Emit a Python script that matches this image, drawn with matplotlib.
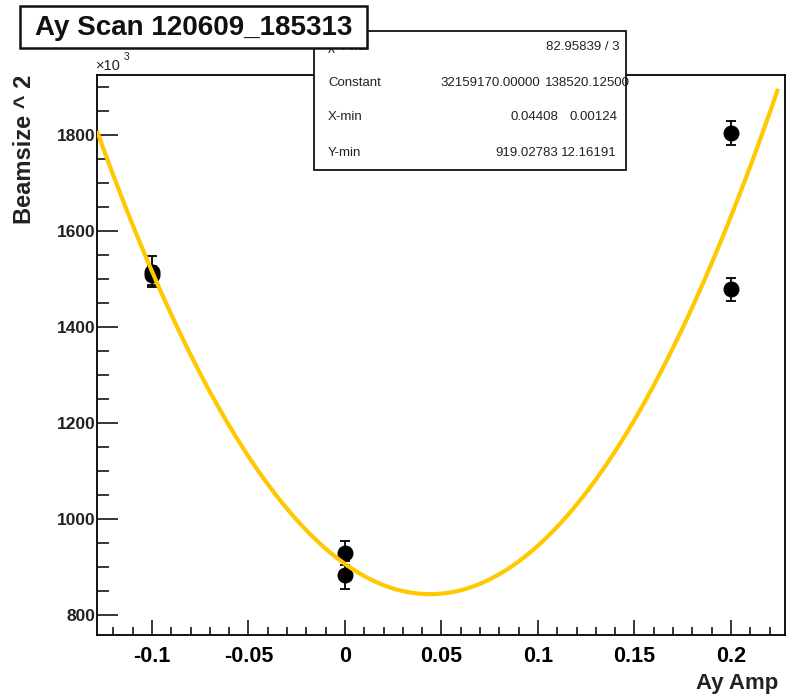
import numpy as np
import matplotlib
matplotlib.use("Agg")
import matplotlib.pyplot as plt
from matplotlib.patches import Rectangle
from matplotlib.ticker import MultipleLocator, FuncFormatter

plt.rcParams['font.family'] = ['Liberation Sans', 'DejaVu Sans']

# ---- data (values in units of 10^3) ----
ay_amp = [-0.1, -0.1, 0.0, 0.0, 0.2, 0.2]
beamsize2 = [1515, 1508, 928, 883, 1804, 1478]
beamsize2_err = [32, 20, 25, 29, 25, 23]

# fitted parabola parameters
fit_constant = 32400.0
fit_xmin = 0.0441
fit_ymin = 843.0
fit_range = (-0.1285, 0.2244)

title = "Ay Scan 120609_185313"
xlabel = "Ay Amp"
ylabel = "Beamsize ^ 2"
stat_rows = [
    ("\u03c7\u00b2 / ndf", "82.95839 / 3", None),
    ("Constant", "32159170.00000", "138520.12500"),
    ("X-min", "0.04408", "0.00124"),
    ("Y-min", "919.02783", "12.16191"),
]

W, H = 788, 697
fig = plt.figure(figsize=(W / 100, H / 100), dpi=100)
fig.patch.set_facecolor('white')


def fx(x):
    return x / W


def fy(y):
    return 1 - y / H


L, R, T, B = 97, 785, 75, 635
ax = fig.add_axes([fx(L), fy(B), (R - L) / W, (B - T) / H])
ax.set_xlim(-0.1285, 0.228)
ax.set_ylim(758, 1925)

ax.errorbar(ay_amp, beamsize2, yerr=beamsize2_err, fmt='o', color='black',
            ms=10.5, elinewidth=1.3, capsize=3.5, capthick=1.3, zorder=3)

xs = np.linspace(fit_range[0], fit_range[1], 100)
ys = fit_constant * (xs - fit_xmin) ** 2 + fit_ymin
ax.plot(xs, ys, color='#FFC800', lw=3.0, zorder=4, solid_capstyle='butt')

for s in ax.spines.values():
    s.set_linewidth(1.3)

ax.xaxis.set_major_locator(MultipleLocator(0.05))
ax.xaxis.set_minor_locator(MultipleLocator(0.01))
ax.yaxis.set_major_locator(MultipleLocator(200))
ax.yaxis.set_minor_locator(MultipleLocator(50))


def xfmt(v, p):
    if abs(v) < 1e-9:
        return "0"
    return ("%g" % round(v, 3))


ax.xaxis.set_major_formatter(FuncFormatter(xfmt))
ax.yaxis.set_major_formatter(FuncFormatter(lambda v, p: "%d" % round(v)))

ax.tick_params(axis='x', which='major', direction='in', length=11, width=1.1,
               labelsize=15.5, pad=8, top=False)
ax.tick_params(axis='x', which='minor', direction='in', length=6, width=1.1, top=False)
ax.tick_params(axis='y', which='major', direction='in', length=15, width=1.1,
               labelsize=12.5, pad=1, right=False)
ax.tick_params(axis='y', which='minor', direction='in', length=8.5, width=1.1, right=False)
for lab in ax.get_xticklabels() + ax.get_yticklabels():
    lab.set_fontweight('bold')
for lab in ax.get_yticklabels():
    lab.set_color('#222222')

# axis titles
fig.text(fx(778), fy(684), xlabel, ha='right', va='center', fontsize=16,
         fontweight='bold', color='#222222')
fig.text(fx(25), fy(75), ylabel, ha='center', va='top', rotation=90,
         fontsize=17, fontweight='bold', color='#222222')
fig.text(fx(96), fy(66), "\u00d710", ha='left', va='center', fontsize=10.5,
         color='#222222')
fig.text(fx(124), fy(57), "3", ha='left', va='center', fontsize=7.5,
         color='#222222')

# stats box
stats = Rectangle((fx(314), fy(170)), (626 - 314) / W, (170 - 31) / H,
                  transform=fig.transFigure, facecolor='white',
                  edgecolor='#111111', lw=1.3, zorder=5)
fig.add_artist(stats)
row_y = [47, 83, 117, 153]
for (lab, val, err), yy in zip(stat_rows, row_y):
    fig.text(fx(328), fy(yy), lab, ha='left', va='center', fontsize=9.5,
             color='#222222', zorder=6)
    if err is None:
        fig.text(fx(620), fy(yy), val, ha='right', va='center', fontsize=9.5,
                 color='#222222', zorder=6)
    elif lab == "Constant":
        fig.text(fx(540), fy(yy), val, ha='right', va='center', fontsize=9.5,
                 color='#222222', zorder=6)
        fig.text(fx(630), fy(yy), err, ha='right', va='center', fontsize=9.5,
                 color='#222222', zorder=6)
    else:
        fig.text(fx(558), fy(yy), val, ha='right', va='center', fontsize=9.5,
                 color='#222222', zorder=6)
        fig.text(fx(617), fy(yy), err, ha='right', va='center', fontsize=9.5,
                 color='#222222', zorder=6)

# title box
tbox = Rectangle((fx(20), fy(48)), (367 - 20) / W, (48 - 6) / H,
                 transform=fig.transFigure, facecolor='white',
                 edgecolor='#111111', lw=1.8, zorder=8)
fig.add_artist(tbox)
fig.text(fx(194), fy(28), title, ha='center', va='center', fontsize=20,
         fontweight='bold', color='#111111', zorder=9)

fig.savefig("out.png", dpi=100)
